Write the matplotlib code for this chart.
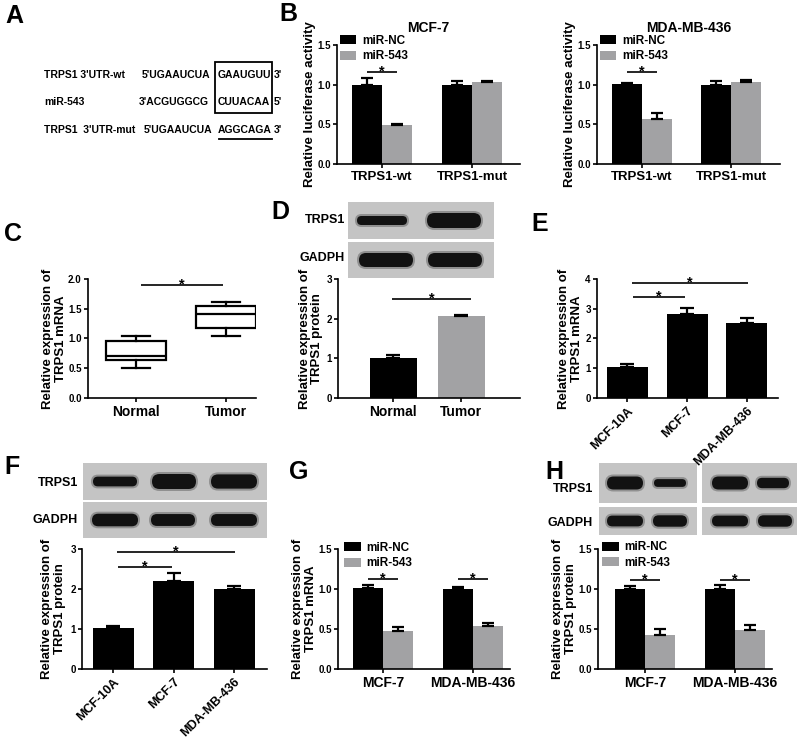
import matplotlib
matplotlib.use('Agg')
import matplotlib.pyplot as plt
import numpy as np
from matplotlib.patches import Rectangle, FancyBboxPatch

plt.rcParams['font.family'] = ['Liberation Sans', 'DejaVu Sans']
plt.rcParams['font.weight'] = 'bold'
plt.rcParams['axes.labelweight'] = 'bold'

# ---------------- data ----------------
series = ['miR-NC', 'miR-543']
b_groups = ['TRPS1-wt', 'TRPS1-mut']
b_mcf_nc = [1.00, 1.00]
b_mcf_nc_err = [0.08, 0.05]
b_mcf_543 = [0.49, 1.03]
b_mcf_543_err = [0.02, 0.015]
b_mda_nc = [1.01, 1.00]
b_mda_nc_err = [0.015, 0.05]
b_mda_543 = [0.57, 1.03]
b_mda_543_err = [0.075, 0.03]

c_groups = ['Normal', 'Tumor']
c_whislo = [0.50, 1.05]
c_q1 = [0.64, 1.18]
c_med = [0.70, 1.42]
c_q3 = [0.95, 1.55]
c_whishi = [1.05, 1.62]

d_groups = ['Normal', 'Tumor']
d_vals = [1.00, 2.06]
d_err = [0.08, 0.02]

cell_groups = ['MCF-10A', 'MCF-7', 'MDA-MB-436']
e_vals = [1.03, 2.82, 2.53]
e_err = [0.11, 0.21, 0.17]
f_vals = [1.02, 2.21, 2.00]
f_err = [0.06, 0.18, 0.08]

gh_groups = ['MCF-7', 'MDA-MB-436']
g_nc = [1.01, 1.00]
g_nc_err = [0.04, 0.03]
g_543 = [0.47, 0.54]
g_543_err = [0.05, 0.03]
h_nc = [1.00, 1.00]
h_nc_err = [0.04, 0.05]
h_543 = [0.42, 0.49]
h_543_err = [0.075, 0.055]

# blot band strengths (relative thickness)
d_trps1_bands = [0.6, 1.0]
d_gadph_bands = [1.0, 1.0]
f_trps1_bands = [0.65, 1.0, 0.95]
f_gadph_bands = [0.9, 0.85, 0.85]
h_trps1_bands = [1.0, 0.6, 1.0, 0.8]
h_gadph_bands = [0.9, 0.95, 0.9, 0.95]

GRAY = '#a2a2a4'
W, H = 800, 740
fig = plt.figure(figsize=(8, 7.4), dpi=100)

# overlay in pixel coordinates
ov = fig.add_axes([0, 0, 1, 1])
ov.set_xlim(0, W)
ov.set_ylim(H, 0)
ov.axis('off')


def px_axes(x0, x1, ytop, ybot):
    ax = fig.add_axes([x0 / W, 1 - ybot / H, (x1 - x0) / W, (ybot - ytop) / H])
    ax.patch.set_alpha(0)
    return ax


def style(ax, ymax, yticks, fmt, x0, x1, c0, sp):
    ax.set_ylim(0, ymax)
    ax.set_yticks(yticks)
    ax.set_yticklabels([fmt.format(t) for t in yticks], fontsize=7, fontweight='bold')
    ax.set_xlim(-(c0 - x0) / sp, (x1 - c0) / sp)
    for s in ['top', 'right']:
        ax.spines[s].set_visible(False)
    for s in ['left', 'bottom']:
        ax.spines[s].set_linewidth(1.2)
    ax.tick_params(axis='y', direction='out', length=3, width=1.2, pad=1.5)
    ax.tick_params(axis='x', direction='out', length=3, width=1.2, pad=2)


def sig(ax, xa, xb, y):
    ax.plot([xa, xb], [y, y], color='black', lw=1.2, clip_on=False, solid_capstyle='butt')
    ax.annotate('*', xy=((xa + xb) / 2, y), xytext=(0, -2.5), textcoords='offset points',
                ha='center', va='baseline', fontsize=10.5, annotation_clip=False)


def grouped(ax, nc, nce, s, se, w):
    x = np.arange(len(nc))
    ax.bar(x - w / 2, nc, w, color='black', label=series[0], zorder=2)
    ax.bar(x + w / 2, s, w, color=GRAY, label=series[1], zorder=2)
    ax.errorbar(x - w / 2, nc, yerr=[np.zeros(len(nc)), nce], fmt='none', ecolor='black',
                elinewidth=1.6, capsize=4, capthick=1.6, zorder=3)
    ax.errorbar(x + w / 2, s, yerr=[np.zeros(len(s)), se], fmt='none', ecolor='black',
                elinewidth=1.6, capsize=4, capthick=1.6, zorder=3)
    return x


def simple(ax, vals, errs, w, colors):
    x = np.arange(len(vals))
    ax.bar(x, vals, w, color=colors, zorder=2)
    ax.errorbar(x, vals, yerr=[np.zeros(len(vals)), errs], fmt='none', ecolor='black',
                elinewidth=1.6, capsize=5, capthick=1.6, zorder=3)
    return x


def legend(ax, bx, by):
    ax.legend(loc='upper left', bbox_to_anchor=(bx, by), frameon=False, fontsize=8.5,
              handlelength=1.4, handleheight=0.8, labelspacing=0.3, handletextpad=0.5,
              borderpad=0, borderaxespad=0)


def ylabel(ax, text, xr):
    ax.set_ylabel(text, fontsize=9.5, fontweight='bold', linespacing=1.1)
    ax.yaxis.set_label_coords(xr, 0.5)


def blot(x0, y0, x1, y1, centers, widths, strengths, maxh):
    ov.add_patch(Rectangle((x0, y0), x1 - x0, y1 - y0, facecolor='#c4c4c4', edgecolor='none'))
    yc = (y0 + y1) / 2
    for xc, bw, st in zip(centers, widths, strengths):
        bh = maxh * st
        ov.add_patch(FancyBboxPatch((xc - bw / 2 - 2, yc - bh / 2 - 2), bw + 4, bh + 4,
                                    boxstyle=f"round,pad=0,rounding_size={(bh + 4) / 2}",
                                    facecolor='#6e6e6e', edgecolor='none', alpha=0.6))
        ov.add_patch(FancyBboxPatch((xc - bw / 2, yc - bh / 2), bw, bh,
                                    boxstyle=f"round,pad=0,rounding_size={bh / 2}",
                                    facecolor='#121212', edgecolor='none'))


# ---------------- panel letters ----------------
letters = [('A', 5, 4), ('B', 279, 2), ('C', 4, 222), ('D', 271, 200), ('E', 531, 212),
           ('F', 4, 455), ('G', 289, 460), ('H', 545, 460)]
for t, x, y in letters:
    ov.text(x, y, t, fontsize=18, fontweight='bold', ha='left', va='top')

# ---------------- panel A ----------------
fsA = 7.5
rows = [
    (75, 'TRPS1 3\'UTR-wt', '5\'UGAAUCUA', 142, 'GAAUGUU', '3\''),
    (102, 'miR-543', '3\'ACGUGGCG', 139, 'CUUACAA', '5\''),
    (130, 'TRPS1  3\'UTR-mut', '5\'UGAAUCUA', 144, 'AGGCAGA', '3\''),
]
for y, name, pre, xpre, site, end in rows:
    ov.text(44, y, name, fontsize=fsA, ha='left', va='center')
    ov.text(xpre, y, pre, fontsize=fsA, ha='left', va='center')
    ov.text(218, y, site, fontsize=fsA, ha='left', va='center')
    ov.text(274, y, end, fontsize=fsA, ha='left', va='center')
ov.add_patch(Rectangle((215, 62), 57, 51, facecolor='none', edgecolor='black', lw=1.3))
ov.plot([219, 272], [139, 139], color='black', lw=1.3)

# ---------------- panel B ----------------
for (x0, x1, c0, sp, title, nc, nce, s, se) in [
        (337, 520, 382, 90, 'MCF-7', b_mcf_nc, b_mcf_nc_err, b_mcf_543, b_mcf_543_err),
        (597, 780, 642, 89, 'MDA-MB-436', b_mda_nc, b_mda_nc_err, b_mda_543, b_mda_543_err)]:
    ax = px_axes(x0, x1, 45, 164)
    w = 30 / sp
    x = grouped(ax, nc, nce, s, se, w)
    style(ax, 1.5, [0.0, 0.5, 1.0, 1.5], '{:.1f}', x0, x1, c0, sp)
    ax.set_xticks(x)
    ax.set_xticklabels(b_groups, fontsize=9.5, fontweight='bold')
    ax.set_title(title, fontsize=10, fontweight='bold', pad=9)
    sig(ax, x[0] - w / 2, x[0] + w / 2, 1.16)
    legend(ax, 0.016, 1.085)
    ylabel(ax, 'Relative luciferase activity', -0.115)

# ---------------- panel C ----------------
x0, x1, c0, sp = 88, 256, 136, 90
ax = px_axes(x0, x1, 279, 398)
stats = [dict(med=m, q1=a, q3=b, whislo=lo, whishi=hi, fliers=[], label=g)
         for g, lo, a, m, b, hi in zip(c_groups, c_whislo, c_q1, c_med, c_q3, c_whishi)]
pos = np.arange(len(stats))
ax.bxp(stats, positions=pos, widths=60 / sp, capwidths=28 / sp, showfliers=False, patch_artist=True,
       boxprops=dict(facecolor='white', edgecolor='black', linewidth=1.6),
       medianprops=dict(color='black', linewidth=1.6),
       whiskerprops=dict(color='black', linewidth=1.6),
       capprops=dict(color='black', linewidth=1.6))
style(ax, 2.0, [0.0, 0.5, 1.0, 1.5, 2.0], '{:.1f}', x0, x1, c0, sp)
ax.set_xticks(pos)
ax.set_xticklabels(c_groups, fontsize=10, fontweight='bold')
sig(ax, pos[0] + 0.05, pos[1] - 0.03, 1.9)
ylabel(ax, 'Relative expression of\nTRPS1 mRNA', -0.125)

# ---------------- panel D ----------------
blot(348, 202, 494, 239, [382, 454], [50, 54], d_trps1_bands, 15)
blot(348, 242, 494, 278, [386, 455], [54, 54], d_gadph_bands, 14)
ov.text(345, 220, 'TRPS1', fontsize=9, ha='right', va='center')
ov.text(345, 258, 'GADPH', fontsize=9, ha='right', va='center')
x0, x1, c0, sp = 338, 520, 393, 68
ax = px_axes(x0, x1, 279, 398)
x = simple(ax, d_vals, d_err, 47 / sp, ['black', GRAY])
style(ax, 3, [0, 1, 2, 3], '{:d}', x0, x1, c0, sp)
ax.set_xticks(x)
ax.set_xticklabels(d_groups, fontsize=10, fontweight='bold')
sig(ax, x[0] - 0.02, x[1] + 0.15, 2.5)
ylabel(ax, 'Relative expression of\nTRPS1 protein', -0.08)

# ---------------- panel E ----------------
x0, x1, c0, sp = 597, 778, 627, 60
ax = px_axes(x0, x1, 279, 398)
x = simple(ax, e_vals, e_err, 41 / sp, 'black')
style(ax, 4, [0, 1, 2, 3, 4], '{:d}', x0, x1, c0, sp)
ax.set_xticks(x)
ax.set_xticklabels(cell_groups, fontsize=9, fontweight='bold', rotation=45, ha='right',
                   rotation_mode='anchor')
sig(ax, x[0] + 0.1, x[1] - 0.03, 3.4)
sig(ax, x[0] + 0.08, x[2] + 0.02, 3.88)
ylabel(ax, 'Relative expression of\nTRPS1 mRNA', -0.08)

# ---------------- panel F ----------------
blot(83, 463, 267, 500, [115, 174, 234], [44, 44, 46], f_trps1_bands, 15)
blot(83, 502, 267, 538, [115, 173, 234], [46, 44, 46], f_gadph_bands, 14)
ov.text(78, 483, 'TRPS1', fontsize=9, ha='right', va='center')
ov.text(78, 520, 'GADPH', fontsize=9, ha='right', va='center')
x0, x1, c0, sp = 82, 267, 113, 60.5
ax = px_axes(x0, x1, 549, 669)
x = simple(ax, f_vals, f_err, 41 / sp, 'black')
style(ax, 3, [0, 1, 2, 3], '{:d}', x0, x1, c0, sp)
ax.set_xticks(x)
ax.set_xticklabels(cell_groups, fontsize=9, fontweight='bold', rotation=45, ha='right',
                   rotation_mode='anchor')
sig(ax, x[0] + 0.08, x[1] - 0.03, 2.54)
sig(ax, x[0] + 0.06, x[2] + 0.02, 2.93)
ylabel(ax, 'Relative expression of\nTRPS1 protein', -0.085)

# ---------------- panel G ----------------
x0, x1, c0, sp = 338, 510, 383, 90
ax = px_axes(x0, x1, 549, 669)
w = 30 / sp
x = grouped(ax, g_nc, g_nc_err, g_543, g_543_err, w)
style(ax, 1.5, [0.0, 0.5, 1.0, 1.5], '{:.1f}', x0, x1, c0, sp)
ax.set_xticks(x)
ax.set_xticklabels(gh_groups, fontsize=10, fontweight='bold')
for xi in x:
    sig(ax, xi - w / 2, xi + w / 2, 1.13)
legend(ax, 0.035, 1.06)
ylabel(ax, 'Relative expression of\nTRPS1 mRNA', -0.12)

# ---------------- panel H ----------------
blot(599, 463, 697, 503, [625, 670], [36, 32], h_trps1_bands[:2], 13)
blot(702, 463, 797, 503, [730, 773], [36, 32], h_trps1_bands[2:], 13)
blot(599, 507, 697, 535, [625, 670], [36, 34], h_gadph_bands[:2], 12)
blot(702, 507, 797, 535, [730, 775], [36, 34], h_gadph_bands[2:], 12)
ov.text(593, 489, 'TRPS1', fontsize=9, ha='right', va='center')
ov.text(593, 523, 'GADPH', fontsize=9, ha='right', va='center')
x0, x1, c0, sp = 598, 772, 645, 90
ax = px_axes(x0, x1, 549, 669)
w = 30 / sp
x = grouped(ax, h_nc, h_nc_err, h_543, h_543_err, w)
style(ax, 1.5, [0.0, 0.5, 1.0, 1.5], '{:.1f}', x0, x1, c0, sp)
ax.set_xticks(x)
ax.set_xticklabels(gh_groups, fontsize=10, fontweight='bold')
for xi in x:
    sig(ax, xi - w / 2, xi + w / 2, 1.11)
legend(ax, 0.023, 1.065)
ylabel(ax, 'Relative expression of\nTRPS1 protein', -0.12)

fig.savefig('out.png', dpi=100)
